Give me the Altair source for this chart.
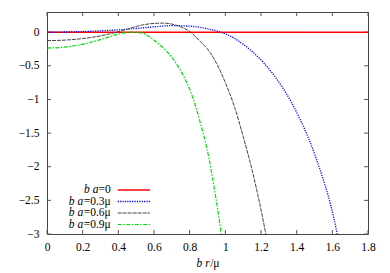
import altair as alt
import pandas as pd

# ---- data ----
r_0 = [0.0, 1.8]
v_0 = [0.0, 0.0]

r_03 = [0, 0.1, 0.2, 0.3, 0.4, 0.5, 0.6, 0.7, 0.8, 0.9, 0.975, 1.05, 1.1, 1.16, 1.22,
        1.27, 1.32, 1.37, 1.42, 1.47, 1.51, 1.55, 1.59, 1.628]
v_03 = [0, 0.003, 0.01, 0.02, 0.035, 0.055, 0.08, 0.097, 0.09, 0.05, 0, -0.09, -0.18,
        -0.31, -0.47, -0.63, -0.82, -1.04, -1.30, -1.60, -1.88, -2.2, -2.56, -3.0]

r_06 = [0, 0.1, 0.2, 0.3, 0.39, 0.45, 0.5, 0.55, 0.6, 0.65, 0.7, 0.75, 0.805, 0.86,
        0.9, 0.95, 1.0, 1.05, 1.1, 1.15, 1.197, 1.227]
v_06 = [-0.125, -0.118, -0.095, -0.055, 0, 0.045, 0.085, 0.115, 0.13, 0.135, 0.12,
        0.08, 0, -0.14, -0.25, -0.46, -0.75, -1.1, -1.55, -2.05, -2.6, -3.0]

r_09 = [0, 0.1, 0.2, 0.3, 0.4, 0.47, 0.53, 0.57, 0.62, 0.665, 0.71, 0.765, 0.805,
        0.833, 0.86, 0.887, 0.907, 0.927, 0.946, 0.961, 0.977]
v_09 = [-0.236, -0.222, -0.18, -0.11, -0.03, 0, -0.01, -0.06, -0.16, -0.27, -0.41,
        -0.65, -0.88, -1.1, -1.35, -1.62, -1.86, -2.15, -2.45, -2.7, -3.0]

series_r = [r_0, r_03, r_06, r_09]
series_v = [v_0, v_03, v_06, v_09]
leg_prefix = "b a"
leg_suffix = ["=0", "=0.3μ", "=0.6μ", "=0.9μ"]

colors = ["#ff0000", "#0000ff", "#444444", "#00dd00"]
dashes = [[1, 0], [1.2, 1.2], [4, 1], [4, 1.5, 1.5, 1.5]]
widths = [1.5, 1.3, 1.0, 1.2]

x_ticks = [0, 0.2, 0.4, 0.6, 0.8, 1.0, 1.2, 1.4, 1.6, 1.8]
y_ticks = [0, -0.5, -1, -1.5, -2, -2.5, -3]
x_title_it = "b r"
x_title_up = "/μ"

# ---- layout ----
W, H = 321, 222
FONT = "Liberation Serif, Times New Roman, serif"
FS = 11.5

xs = alt.Scale(domain=[0, 1.8], nice=False, zero=False)
ys = alt.Scale(domain=[-3, 0.3], nice=False, zero=False)
xax = alt.Axis(values=x_ticks, format="~g", title=None, ticks=False, tickSize=0,
               domain=False, grid=False, labelPadding=7, labelFont=FONT,
               labelFontSize=FS, labelColor="#000", labelFlush=False)
yax = alt.Axis(values=y_ticks, format="~g", title=None, ticks=False, tickSize=0,
               domain=False, grid=False, labelPadding=8, labelFont=FONT,
               labelFontSize=FS, labelColor="#000", labelFlush=False)

layers = []

# tick marks (inward, all four sides)
xt = pd.DataFrame({"r": x_ticks})
yt = pd.DataFrame({"v": y_ticks})
tick_col = "#555"
layers.append(alt.Chart(xt).mark_rule(color=tick_col, strokeWidth=1).encode(
    x=alt.X("r:Q", scale=xs, axis=xax), y=alt.value(0), y2=alt.value(4)))
layers.append(alt.Chart(xt).mark_rule(color=tick_col, strokeWidth=1).encode(
    x=alt.X("r:Q", scale=xs, axis=xax), y=alt.value(H - 4), y2=alt.value(H)))
layers.append(alt.Chart(yt).mark_rule(color=tick_col, strokeWidth=1).encode(
    y=alt.Y("v:Q", scale=ys, axis=yax), x=alt.value(0), x2=alt.value(4)))
layers.append(alt.Chart(yt).mark_rule(color=tick_col, strokeWidth=1).encode(
    y=alt.Y("v:Q", scale=ys, axis=yax), x=alt.value(W - 4), x2=alt.value(W)))

# curves
for i in range(4):
    df = pd.DataFrame({"r": series_r[i], "v": series_v[i]})
    layers.append(alt.Chart(df).mark_line(
        color=colors[i], strokeDash=dashes[i], strokeWidth=widths[i],
        interpolate="monotone", clip=True).encode(
        x=alt.X("r:Q", scale=xs, axis=xax),
        y=alt.Y("v:Q", scale=ys, axis=yax)))

# legend (gnuplot style: right aligned label, then line sample)
metrics = {"=": 0.564, "0": 0.5, ".": 0.25, "3": 0.5, "6": 0.5, "9": 0.5, "μ": 0.576}
leg_rows = [178, 189.5, 201, 212.5]
lab_end = 63.7
samp_x0, samp_x1 = 70.7, 103
for i in range(4):
    yrow = leg_rows[i]
    sw = sum(metrics[c] for c in leg_suffix[i]) * FS
    layers.append(alt.Chart(pd.DataFrame({"a": [0]})).mark_text(
        text=leg_suffix[i], align="right", baseline="middle", font=FONT,
        fontSize=FS, color="#000").encode(x=alt.value(lab_end), y=alt.value(yrow)))
    layers.append(alt.Chart(pd.DataFrame({"a": [0]})).mark_text(
        text=leg_prefix, align="right", baseline="middle", font=FONT, fontSize=FS,
        fontStyle="italic", color="#000").encode(
        x=alt.value(lab_end - sw), y=alt.value(yrow)))
    layers.append(alt.Chart(pd.DataFrame({"a": [0]})).mark_rule(
        color=colors[i], strokeDash=dashes[i], strokeWidth=widths[i]).encode(
        x=alt.value(samp_x0), x2=alt.value(samp_x1), y=alt.value(yrow)))

# x axis title "b r/μ"
w_it = (0.5 + 0.25 + 0.389) * FS
w_up = (0.278 + 0.576) * FS
xc = 161.0
split = xc - (w_it + w_up) / 2 + w_it
ty = 251.5
layers.append(alt.Chart(pd.DataFrame({"a": [0]})).mark_text(
    text=x_title_it, align="right", baseline="middle", font=FONT, fontSize=FS,
    fontStyle="italic", color="#000").encode(x=alt.value(split), y=alt.value(ty)))
layers.append(alt.Chart(pd.DataFrame({"a": [0]})).mark_text(
    text=x_title_up, align="left", baseline="middle", font=FONT, fontSize=FS,
    color="#000").encode(x=alt.value(split + 0.5), y=alt.value(ty)))

chart = alt.layer(*layers).properties(
    width=W, height=H,
    autosize=alt.AutoSizeParams(type="none"),
    padding={"left": 39, "top": 4, "right": 14, "bottom": 38},
    background="white",
).configure_view(stroke="#444", strokeWidth=1)

chart.save("out.html", embed_options={"renderer": "svg", "actions": False})
